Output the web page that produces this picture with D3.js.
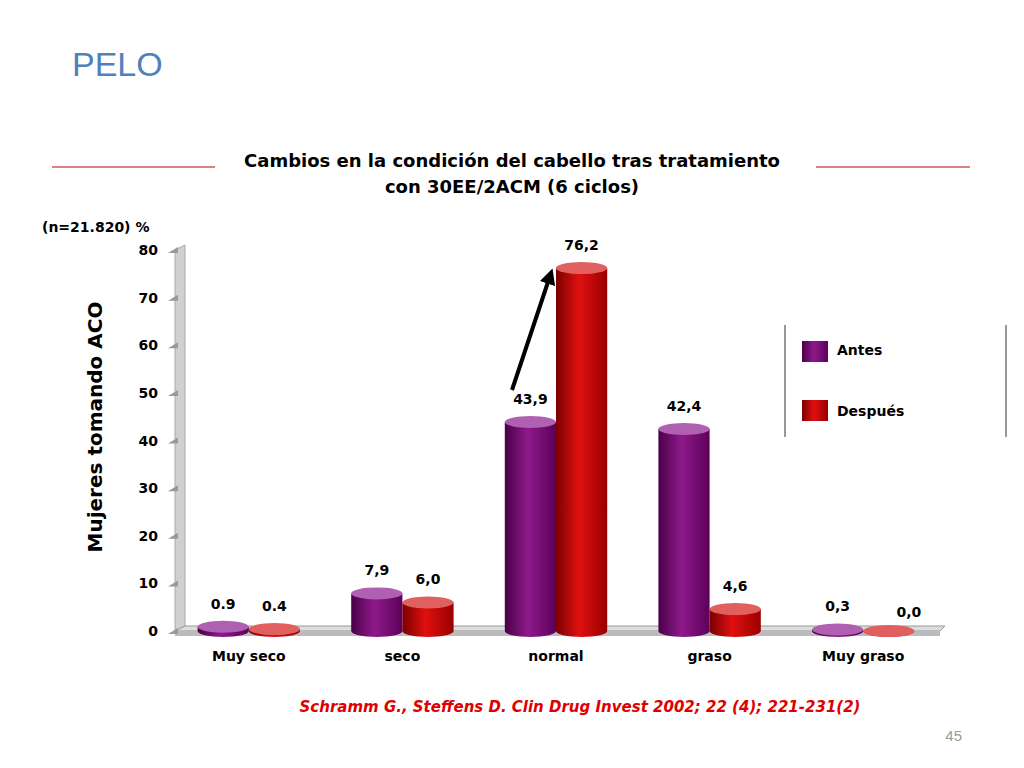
<!DOCTYPE html>
<html><head><meta charset="utf-8">
<script src="https://cdn.jsdelivr.net/npm/d3@7"></script>
<style>body{margin:0;background:#fff}text{font-family:"DejaVu Sans",Verdana,sans-serif}</style>
</head><body><svg id="c" width="1024" height="768"></svg>
<script>
var categories = ["Muy seco", "seco", "normal", "graso", "Muy graso"];
var antes = [0.9, 7.9, 43.9, 42.4, 0.3];
var despues = [0.4, 6.0, 76.2, 4.6, 0.0];
var antesLabels = ["0.9", "7,9", "43,9", "42,4", "0,3"];
var despuesLabels = ["0.4", "6,0", "76,2", "4,6", "0,0"];
var yTicks = [0, 10, 20, 30, 40, 50, 60, 70, 80];
var seriesNames = ["Antes", "Después"];

var svg = d3.select("#c");
var defs = svg.append("defs");
function grad(id, dark, mid, light){
	var g = defs.append("linearGradient").attr("id", id);
	g.append("stop").attr("offset", "0%").attr("stop-color", dark);
	g.append("stop").attr("offset", "45%").attr("stop-color", light);
	g.append("stop").attr("offset", "100%").attr("stop-color", mid);
}
grad("gA", "#4a0048", "#5c005a", "#8e1a8a");
grad("gD", "#7a0000", "#990000", "#e01010");
var topCol = ["#b060b0", "#e06060"];

var x = d3.scaleBand().domain(categories).range([172, 940]).paddingInner(0).paddingOuter(0);
var y = d3.scaleLinear().domain([0, 80]).range([631, 250]);

svg.append("text").attr("x", 72).attr("y", 76).attr("font-size", 34).attr("fill", "#4f81bd")
	.style("font-family", "Liberation Sans, Arial").text("PELO");

svg.append("text").attr("x", 512).attr("y", 167).attr("text-anchor", "middle").attr("font-size", 18).attr("font-weight", "bold")
	.text("Cambios en la condición del cabello tras tratamiento");
svg.append("text").attr("x", 512).attr("y", 193).attr("text-anchor", "middle").attr("font-size", 18).attr("font-weight", "bold")
	.text("con 30EE/2ACM (6 ciclos)");
svg.append("line").attr("x1", 52).attr("x2", 215).attr("y1", 167).attr("y2", 167).attr("stroke", "#c00000");
svg.append("line").attr("x1", 816).attr("x2", 970).attr("y1", 167).attr("y2", 167).attr("stroke", "#c00000");

svg.append("text").attr("x", 42).attr("y", 232).attr("font-size", 14).attr("font-weight", "bold").text("(n=21.820) %");
svg.append("text").attr("transform", "translate(102,427) rotate(-90)").attr("text-anchor", "middle")
	.attr("font-size", 20).attr("font-weight", "bold").text("Mujeres tomando ACO");

// walls
svg.append("path").attr("d", "M175," + y(80) + " L185," + (y(80) - 5) + " L185," + (y(0) - 5) + " L175," + y(0) + "Z")
	.attr("fill", "#d0d0d0").attr("stroke", "#aaa");
svg.append("path").attr("d", "M175," + y(0) + " L185," + (y(0) - 5) + " L945," + (y(0) - 5) + " L940," + y(0) + "Z")
	.attr("fill", "#ddd").attr("stroke", "#999");
svg.append("rect").attr("x", 175).attr("y", y(0)).attr("width", 765).attr("height", 5).attr("fill", "#bbb");

var yg = svg.append("g");
yTicks.forEach(function(t){
	yg.append("path").attr("d", "M168," + (y(t) + 3) + " L178," + (y(t) - 3) + " L178," + (y(t) + 3) + "Z").attr("fill", "#999");
	yg.append("text").attr("x", 158).attr("y", y(t) + 5).attr("text-anchor", "end").attr("font-size", 14).attr("font-weight", "bold").text(t);
});

var bw = x.bandwidth() / 3;
function cyl(cx, v, fill, top){
	var h = y(0) - y(v), ry = 6;
	var g = svg.append("g");
	g.append("path").attr("d", "M" + (cx - bw / 2) + "," + y(v) + " L" + (cx - bw / 2) + "," + y(0) +
		" A" + bw / 2 + "," + ry + " 0 0 0 " + (cx + bw / 2) + "," + y(0) + " L" + (cx + bw / 2) + "," + y(v) + "Z").attr("fill", "url(#" + fill + ")");
	g.append("ellipse").attr("cx", cx).attr("cy", y(v)).attr("rx", bw / 2).attr("ry", ry).attr("fill", top);
}
categories.forEach(function(c, i){
	var cx = x(c) + x.bandwidth() / 2;
	cyl(cx - bw / 2, antes[i], "gA", topCol[0]);
	cyl(cx + bw / 2, despues[i], "gD", topCol[1]);
	svg.append("text").attr("x", cx).attr("y", y(0) + 30).attr("text-anchor", "middle").attr("font-size", 14).attr("font-weight", "bold").text(c);
});
var la = [[222, 610], [380, 578], [532, 410], [686, 416], [840, 610]];
var ld = [[275, 612], [430, 590], [590, 251], [742, 598], [896, 617]];
categories.forEach(function(c, i){
	var cx = x(c) + x.bandwidth() / 2;
	svg.append("text").attr("x", cx - bw / 2 + (i == 1 ? 0 : 0)).attr("y", Math.min(y(antes[i]) - 18, 611)).attr("text-anchor", "middle")
		.attr("font-size", 14).attr("font-weight", "bold").text(antesLabels[i]);
	var dy = i == 4 ? 617 : Math.min(y(despues[i]) - 18, 613);
	svg.append("text").attr("x", cx + bw / 2 + (i == 4 ? 20 : 0)).attr("y", dy).attr("text-anchor", "middle")
		.attr("font-size", 14).attr("font-weight", "bold").text(despuesLabels[i]);
});

// arrow
defs.append("marker").attr("id", "ah").attr("viewBox", "0 0 10 10").attr("refX", 5).attr("refY", 5)
	.attr("markerWidth", 4).attr("markerHeight", 4).attr("orient", "auto")
	.append("path").attr("d", "M0,0 L10,5 L0,10Z");
svg.append("line").attr("x1", 512).attr("y1", 390).attr("x2", 550).attr("y2", 276)
	.attr("stroke", "#000").attr("stroke-width", 4).attr("marker-end", "url(#ah)");

// legend
svg.append("line").attr("x1", 785).attr("x2", 785).attr("y1", 325).attr("y2", 437).attr("stroke", "#333");
svg.append("line").attr("x1", 1006).attr("x2", 1006).attr("y1", 325).attr("y2", 437).attr("stroke", "#333");
seriesNames.forEach(function(n, i){
	svg.append("rect").attr("x", 802).attr("y", 341 + i * 59).attr("width", 26).attr("height", 21).attr("fill", i ? "url(#gD)" : "url(#gA)");
	svg.append("text").attr("x", 837).attr("y", 355 + i * 61).attr("font-size", 14).attr("font-weight", "bold").text(n);
});

svg.append("text").attr("x", 580).attr("y", 712).attr("text-anchor", "middle").attr("font-size", 15).attr("font-weight", "bold")
	.attr("font-style", "italic").attr("fill", "#e00000").text("Schramm G., Steffens D. Clin Drug Invest 2002; 22 (4); 221-231(2)");
svg.append("text").attr("x", 962).attr("y", 741).attr("text-anchor", "end").attr("font-size", 15).attr("fill", "#999")
	.style("font-family", "Liberation Sans, Arial").text("45");
</script></body></html>
